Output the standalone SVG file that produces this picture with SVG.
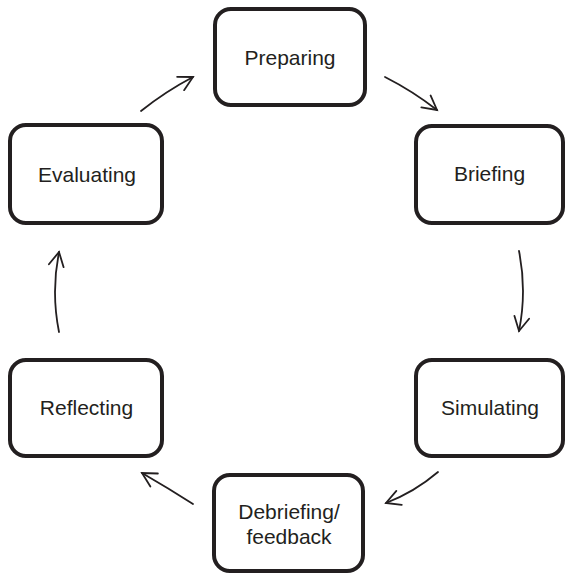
<svg xmlns="http://www.w3.org/2000/svg" width="566" height="575" viewBox="0 0 566 575">
  <style>
    .box { fill: #ffffff; stroke: #231f20; stroke-width: 4; }
    .lbl { font-family: "Liberation Sans", Arial, Helvetica, sans-serif; font-size: 21px; fill: #231f20; text-anchor: middle; }
    .arr { fill: none; stroke: #231f20; stroke-width: 1.8; stroke-linecap: round; marker-end: url(#head); }
  </style>
  <defs>
    <marker id="head" markerUnits="userSpaceOnUse" viewBox="-16 -10 20 20" refX="0" refY="0" markerWidth="20" markerHeight="20" orient="auto" overflow="visible">
      <path d="M-14,-7.5 L0,0 L-14,7.5" fill="none" stroke="#231f20" stroke-width="1.8" stroke-linecap="round" stroke-linejoin="miter"/>
    </marker>
  </defs>
  <rect width="566" height="575" fill="#ffffff"/>

  <g id="connectors">
    <path class="arr" d="M385,77 Q412.6,91 437,110"/>
    <path class="arr" d="M519,251 Q527,291 519,331"/>
    <path class="arr" d="M438,472 Q414.5,492 386,503"/>
    <path class="arr" d="M193,504 Q168,488 142,473"/>
    <path class="arr" d="M59,332 Q51,292 59,252"/>
    <path class="arr" d="M141,111 Q165.4,91.5 193,77"/>
  </g>

  <g id="preparing">
    <rect class="box" x="215" y="9" width="150" height="96" rx="16"/>
    <text class="lbl" x="290" y="65">Preparing</text>
  </g>
  <g id="briefing">
    <rect class="box" x="416" y="126" width="147" height="97" rx="16"/>
    <text class="lbl" x="489.5" y="181">Briefing</text>
  </g>
  <g id="simulating">
    <rect class="box" x="416" y="360" width="147" height="96" rx="16"/>
    <text class="lbl" x="490" y="415">Simulating</text>
  </g>
  <g id="debriefing">
    <rect class="box" x="214" y="475" width="149" height="96" rx="16"/>
    <text class="lbl" x="289" y="519">Debriefing/</text>
    <text class="lbl" x="289" y="544">feedback</text>
  </g>
  <g id="reflecting">
    <rect class="box" x="10" y="360" width="152" height="96" rx="16"/>
    <text class="lbl" x="86.5" y="415">Reflecting</text>
  </g>
  <g id="evaluating">
    <rect class="box" x="10" y="125" width="152" height="98" rx="16"/>
    <text class="lbl" x="87" y="182">Evaluating</text>
  </g>
</svg>
